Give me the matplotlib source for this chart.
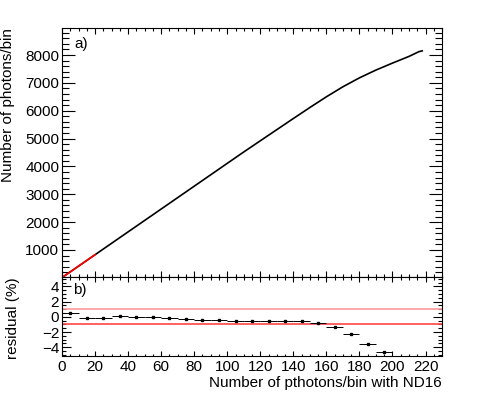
import matplotlib
matplotlib.use("Agg")
import matplotlib.pyplot as plt
from matplotlib.ticker import MultipleLocator

plt.rcParams['font.family'] = ['Liberation Sans', 'DejaVu Sans']
plt.rcParams['font.size'] = 11

# photon counts, reference (ND16) vs measured
ref_x = [1, 10, 20, 30, 40, 50, 60, 70, 80, 90, 100, 110, 120, 130, 140,
         150, 160, 165, 170, 175, 180, 190, 200, 210, 216, 218]
meas_y = [51, 420, 830, 1240, 1650, 2060, 2470, 2880, 3290, 3700, 4110, 4520,
          4920, 5320, 5720, 6115, 6500, 6680, 6860, 7020, 7180, 7460, 7710,
          7950, 8120, 8150]

# linear fit over the low range (red)
fit_x = [1, 20]
fit_y = [51, 830]

# residuals in 10-wide bins
res_x = [5, 15, 25, 35, 45, 55, 65, 75, 85, 95, 105, 115, 125, 135, 145,
         155, 165, 175, 185, 195]
res_y = [0.5, -0.1, -0.1, 0.15, 0.0, 0.0, -0.15, -0.25, -0.4, -0.4, -0.5,
         -0.6, -0.55, -0.6, -0.55, -0.8, -1.35, -2.3, -3.6, -4.6]
res_err = [0.08, 0.05, 0.05, 0.05, 0.05, 0.05, 0.05, 0.05, 0.05, 0.05, 0.05,
           0.05, 0.05, 0.05, 0.06, 0.06, 0.07, 0.08, 0.1, 0.12]
band = [1, -1]

fig = plt.figure(figsize=(4.91, 3.96), dpi=100)
ax1 = fig.add_axes([0.1263, 0.3005, 0.774, 0.6295])
ax2 = fig.add_axes([0.1263, 0.101, 0.774, 0.1995])

# top panel
ax1.plot(ref_x, meas_y, color='black', lw=1.2)
ax1.plot(fit_x, fit_y, color='red', lw=1.2)
ax1.set_xlim(0, 230)
ax1.set_ylim(30, 8980)
ax1.xaxis.set_major_locator(MultipleLocator(20))
ax1.xaxis.set_minor_locator(MultipleLocator(5))
ax1.yaxis.set_major_locator(MultipleLocator(1000))
ax1.yaxis.set_minor_locator(MultipleLocator(200))
ax1.set_yticks(range(1000, 9000, 1000))
ax1.tick_params(which='both', direction='in', top=True, right=True,
                labelbottom=False, width=0.8)
ax1.tick_params(axis='y', which='major', length=9.4, pad=2)
ax1.tick_params(axis='y', which='minor', length=4.7)
ax1.tick_params(axis='x', which='major', length=4)
ax1.tick_params(axis='x', which='minor', length=2)
ax1.set_ylabel('Number of photons/bin', loc='top')
ax1.yaxis.set_label_coords(-0.125, 1.0)
ax1.text(0.032, 0.935, 'a)', transform=ax1.transAxes, va='center', ha='left')

# bottom panel
ax2.axhline(band[0], color='#ff9a9a', lw=1.2)
ax2.axhline(band[1], color='#ff4545', lw=1.2)
ax2.errorbar(res_x, res_y, xerr=5, yerr=res_err, fmt='s', ms=1.6,
             color='black', ecolor='black', elinewidth=0.7, capsize=0)
ax2.set_xlim(0, 230)
ax2.set_ylim(-5.15, 5.25)
ax2.xaxis.set_major_locator(MultipleLocator(20))
ax2.xaxis.set_minor_locator(MultipleLocator(5))
ax2.yaxis.set_major_locator(MultipleLocator(2))
ax2.yaxis.set_minor_locator(MultipleLocator(0.5))
ax2.set_yticks([-4, -2, 0, 2, 4])
ax2.set_yticklabels(['\u22124', '\u22122', '0', '2', '4'])
ax2.tick_params(which='both', direction='in', top=True, right=True, width=0.8)
ax2.tick_params(axis='y', which='major', length=6.5, pad=2)
ax2.tick_params(axis='y', which='minor', length=3.2)
ax2.tick_params(axis='x', which='major', length=3.5, pad=3)
ax2.tick_params(axis='x', which='minor', length=1.8)
ax2.set_ylabel('residual (%)', loc='top')
ax2.yaxis.set_label_coords(-0.11, 1.0)
ax2.set_xlabel('Number of pthotons/bin with ND16', loc='right')
ax2.xaxis.set_label_coords(1.0, -0.25)
ax2.text(0.03, 0.835, 'b)', transform=ax2.transAxes, va='center', ha='left')

for ax in (ax1, ax2):
    for s in ax.spines.values():
        s.set_linewidth(0.8)

fig.savefig('out.png', dpi=100)
